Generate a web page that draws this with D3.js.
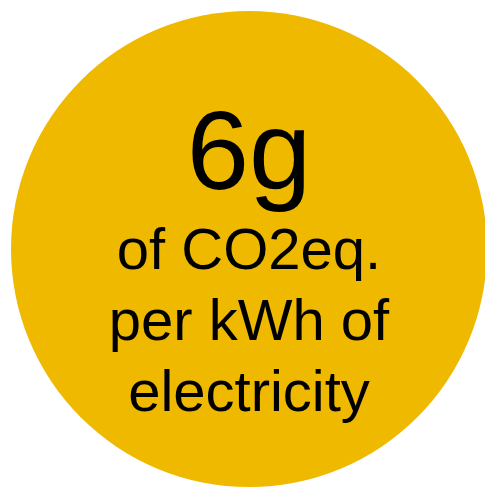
<!DOCTYPE html>
<head>
  <meta charset="utf-8">
  <title>6g CO2eq</title>
  <script src="https://cdn.jsdelivr.net/npm/d3@7"></script>
  <style>
    body { margin: 0; background: #fff; }
  </style>
</head>
<body>
  <svg width="485" height="488"></svg>

  <script>
  // the value and the caption lines under it
  var value = "6g";
  var caption = ["of CO2eq.", "per kWh of", "electricity"];

  var svg = d3.select("svg"),
      width = +svg.attr("width"),
      height = +svg.attr("height");

  var cx = 249, cy = 249, r = 238;

  svg.append("circle")
      .attr("cx", cx)
      .attr("cy", cy)
      .attr("r", r)
      .attr("fill", "#efb900");

  var g = svg.append("g")
      .attr("font-family", "'Liberation Sans', Arial, sans-serif")
      .attr("fill", "#000")
      .attr("text-anchor", "middle");

  g.append("text")
      .attr("x", cx)
      .attr("y", 189)
      .attr("font-size", 112)
      .text(value);

  // caption baselines
  var y = d3.scaleLinear()
      .domain([0, caption.length - 1])
      .range([269, 411]);

  g.selectAll("text.caption")
    .data(caption)
    .enter().append("text")
      .attr("class", "caption")
      .attr("x", cx)
      .attr("y", function(d, i) { return y(i); })
      .attr("font-size", 58)
      .text(function(d) { return d; });
  </script>
</body>
